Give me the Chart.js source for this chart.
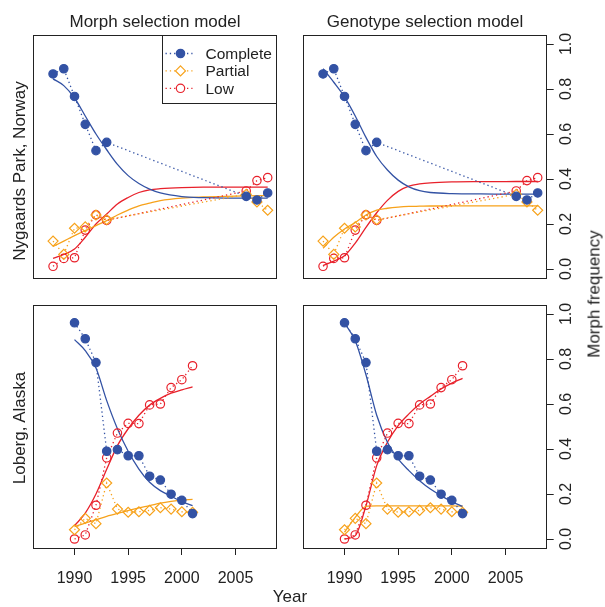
<!DOCTYPE html>
<html>
<head>
<meta charset="utf-8">
<script src="https://cdn.jsdelivr.net/npm/chart.js@4.4.1/dist/chart.umd.min.js"></script>
<style>
body { margin: 0; background: #fff; }
#wrap { position: relative; width: 605px; height: 607px; font-family: "Liberation Sans", Arial, sans-serif; color: #222; }
#wrap canvas { position: absolute; left: 0; top: 0; }
.lbl { position: absolute; white-space: nowrap; font-size: 17px; line-height: 17px; transform: translate(-50%, -50%); }
.rot { transform: translate(-50%, -50%) rotate(-90deg); }
</style>
</head>
<body>
<div id="wrap">
    <canvas id="tl" width="605" height="607"></canvas>
    <canvas id="tr" width="605" height="607"></canvas>
    <canvas id="bl" width="605" height="607"></canvas>
    <canvas id="br" width="605" height="607"></canvas>
    <div class="lbl" style="left:155px; top:21px;">Morph selection model</div>
    <div class="lbl" style="left:425px; top:21px;">Genotype selection model</div>
    <div class="lbl rot" style="left:19px; top:171px;">Nygaards Park, Norway</div>
    <div class="lbl rot" style="left:19px; top:428px;">Loberg, Alaska</div>
    <div class="lbl" style="left:290px; top:596px;">Year</div>
    <div class="lbl rot" style="left:594px; top:294px;">Morph frequency</div>
</div>
<script>
// axis ranges and ticks
var xRange = [1986.16, 2008.84];
var yRange = [-0.04, 1.04];
var xTicks = [1990, 1995, 2000, 2005];
var yTicks = [0, 0.2, 0.4, 0.6, 0.8, 1.0];
var legendLabels = ['Complete', 'Partial', 'Low'];

// Nygaards Park, observed
var obsYearsN = [1988, 1989, 1990, 1991, 1992, 1993, 2006, 2007, 2008];
var completeN = [0.867, 0.89, 0.767, 0.643, 0.526, 0.563, 0.323, 0.307, 0.338];
var partialN = [0.124, 0.065, 0.181, 0.187, 0.24, 0.219, 0.332, 0.298, 0.261];
var lowN = [0.012, 0.047, 0.05, 0.173, 0.241, 0.216, 0.347, 0.393, 0.406];

// Loberg, observed
var obsYearsL = [1990, 1991, 1992, 1993, 1994, 1995, 1996, 1997, 1998, 1999, 2000, 2001];
var completeL = [0.961, 0.89, 0.784, 0.39, 0.397, 0.37, 0.37, 0.279, 0.262, 0.199, 0.172, 0.113];
var partialL = [0.041, 0.092, 0.068, 0.249, 0.133, 0.119, 0.121, 0.127, 0.139, 0.133, 0.121, 0.119];
var lowL = [0.0, 0.018, 0.15, 0.361, 0.471, 0.514, 0.513, 0.596, 0.6, 0.673, 0.708, 0.77];

// fitted curves, Nygaards Park
var fitYearsN = [1988, 1989, 1990, 1991, 1992, 1993, 1994, 1995, 1996, 1997, 1998, 2000, 2002, 2004, 2006, 2008];
var fitCompleteMorphN = [0.845, 0.815, 0.76, 0.68, 0.6, 0.53, 0.465, 0.415, 0.38, 0.355, 0.338, 0.322, 0.317, 0.315, 0.315, 0.315];
var fitPartialMorphN = [0.1, 0.124, 0.148, 0.171, 0.193, 0.215, 0.24, 0.262, 0.281, 0.293, 0.304, 0.315, 0.32, 0.323, 0.325, 0.326];
var fitLowMorphN = [0.047, 0.065, 0.089, 0.141, 0.2, 0.244, 0.289, 0.318, 0.34, 0.352, 0.357, 0.362, 0.364, 0.364, 0.364, 0.364];
var fitCompleteGenoN = [0.89, 0.83, 0.765, 0.68, 0.585, 0.5, 0.44, 0.395, 0.365, 0.348, 0.34, 0.335, 0.334, 0.333, 0.333, 0.333];
var fitPartialGenoN = [0.092, 0.141, 0.178, 0.207, 0.24, 0.262, 0.27, 0.275, 0.278, 0.279, 0.28, 0.281, 0.281, 0.281, 0.281, 0.281];
var fitLowGenoN = [0.015, 0.035, 0.059, 0.115, 0.185, 0.25, 0.305, 0.345, 0.368, 0.378, 0.383, 0.387, 0.388, 0.388, 0.389, 0.389];

// fitted curves, Loberg
var fitYearsL = [1990, 1991, 1992, 1993, 1994, 1995, 1996, 1997, 1998, 1999, 2000, 2001];
var fitCompleteMorphL = [0.886, 0.837, 0.76, 0.615, 0.49, 0.39, 0.311, 0.252, 0.215, 0.19, 0.166, 0.148];
var fitPartialMorphL = [0.055, 0.071, 0.086, 0.101, 0.114, 0.126, 0.138, 0.148, 0.159, 0.167, 0.173, 0.176];
var fitLowMorphL = [0.059, 0.115, 0.2, 0.31, 0.415, 0.49, 0.55, 0.595, 0.625, 0.648, 0.663, 0.676];
var fitCompleteGenoL = [0.96, 0.881, 0.73, 0.55, 0.43, 0.356, 0.304, 0.259, 0.222, 0.193, 0.166, 0.145];
var fitPartialGenoL = [0.03, 0.096, 0.145, 0.147, 0.147, 0.147, 0.147, 0.147, 0.147, 0.147, 0.147, 0.146];
var fitLowGenoL = [0.0, 0.015, 0.148, 0.326, 0.43, 0.504, 0.556, 0.6, 0.634, 0.667, 0.693, 0.714];

var blue = '#3352A4', orange = '#F7A21B', red = '#E8212B', ink = '#222';
var font = '"Liberation Sans", Arial, sans-serif';

function pts(xs, ys) {
    return xs.map(function (x, i) { return {x: x, y: ys[i]}; });
}

function obsSet(xs, ys, color, style) {
    return {
        data: pts(xs, ys),
        borderColor: color,
        borderWidth: 1.3,
        borderDash: [1.3, 3],
        pointStyle: style === 'diamond' ? 'rectRot' : 'circle',
        pointRadius: style === 'diamond' ? 5 : 4.2,
        pointBorderWidth: 1.2,
        pointBorderColor: color,
        pointBackgroundColor: style === 'filled' ? color : 'rgba(0,0,0,0)',
        fill: false,
        tension: 0
    };
}

function fitSet(xs, ys, color) {
    return {
        data: pts(xs, ys),
        borderColor: color,
        borderWidth: 1.3,
        pointRadius: 0,
        fill: false,
        cubicInterpolationMode: 'monotone'
    };
}

// box edges, snapped so box and legend share the same lines
function boxEdges(a) {
    var l = Math.round(a.left) + 0.5, t = Math.round(a.top) + 0.5;
    return {l: l, t: t, r: l + Math.round(a.right - a.left), b: t + Math.round(a.bottom - a.top)};
}

var boxPlugin = {
    id: 'box',
    afterDraw: function (chart) {
        var e = boxEdges(chart.chartArea), ctx = chart.ctx;
        ctx.save();
        ctx.strokeStyle = ink;
        ctx.lineWidth = 1;
        ctx.strokeRect(e.l, e.t, e.r - e.l, e.b - e.t);
        ctx.restore();
    }
};

var legendPlugin = {
    id: 'morphLegend',
    afterDraw: function (chart) {
        var e = boxEdges(chart.chartArea), ctx = chart.ctx;
        var left = e.r - 114, top = e.t;
        var colors = [blue, orange, red];
        ctx.save();
        ctx.strokeStyle = ink;
        ctx.lineWidth = 1;
        ctx.strokeRect(left, top, e.r - left, 68);
        for (var i = 0; i < 3; i++) {
            var y = top + 18 + i * 17.4;
            var sx = left + 18;
            ctx.strokeStyle = colors[i];
            ctx.lineWidth = 1.3;
            ctx.setLineDash([1.3, 3]);
            ctx.beginPath();
            ctx.moveTo(left + 3, y);
            ctx.lineTo(left + 30, y);
            ctx.stroke();
            ctx.setLineDash([]);
            ctx.lineWidth = 1.2;
            ctx.beginPath();
            if (i === 1) {
                ctx.moveTo(sx, y - 5); ctx.lineTo(sx + 5, y); ctx.lineTo(sx, y + 5); ctx.lineTo(sx - 5, y); ctx.closePath();
            } else {
                ctx.arc(sx, y, 4.2, 0, Math.PI * 2);
            }
            ctx.fillStyle = i === 0 ? colors[i] : '#fff';
            ctx.fill();
            ctx.stroke();
            ctx.fillStyle = ink;
            ctx.font = '15.5px ' + font;
            ctx.textAlign = 'left';
            ctx.textBaseline = 'middle';
            ctx.fillText(legendLabels[i], left + 43, y + 1);
        }
        ctx.restore();
    }
};

function makePanel(id, pad, showX, showY, obs, fits, years, fitYears, withLegend) {
    var datasets = [
        obsSet(years, obs[0], blue, 'filled'),
        obsSet(years, obs[1], orange, 'diamond'),
        obsSet(years, obs[2], red, 'open'),
        fitSet(fitYears, fits[0], blue),
        fitSet(fitYears, fits[1], orange),
        fitSet(fitYears, fits[2], red)
    ];
    var plugins = [boxPlugin];
    if (withLegend) plugins.push(legendPlugin);
    return new Chart(document.getElementById(id), {
        type: 'line',
        data: {datasets: datasets},
        options: {
            responsive: false,
            animation: false,
            layout: {padding: pad},
            plugins: {legend: {display: false}, tooltip: {enabled: false}},
            scales: {
                x: {
                    type: 'linear',
                    min: xRange[0],
                    max: xRange[1],
                    display: showX,
                    afterBuildTicks: function (s) { s.ticks = xTicks.map(function (v) { return {value: v}; }); },
                    afterFit: function (s) { if (showX) s.height = 40; },
                    border: {display: false},
                    grid: {drawOnChartArea: false, drawTicks: true, tickLength: 7, tickColor: ink, tickWidth: 1},
                    ticks: {color: ink, padding: 14, maxRotation: 0, font: {family: font, size: 16},
                        callback: function (v) { return String(v); }}
                },
                y: {
                    type: 'linear',
                    position: 'right',
                    min: yRange[0],
                    max: yRange[1],
                    display: showY,
                    afterBuildTicks: function (s) { s.ticks = yTicks.map(function (v) { return {value: v}; }); },
                    afterFit: function (s) { if (showY) s.width = 40; },
                    border: {display: false},
                    grid: {drawOnChartArea: false, drawTicks: true, tickLength: 7, tickColor: ink, tickWidth: 1},
                    ticks: {color: ink, padding: 2, minRotation: 90, maxRotation: 90, crossAlign: 'center',
                        font: {family: font, size: 16},
                        callback: function (v) { return v.toFixed(1); }}
                }
            }
        },
        plugins: plugins
    });
}

makePanel('tl', {left: 33.3, top: 35, right: 328.3, bottom: 329}, false, false,
    [completeN, partialN, lowN], [fitCompleteMorphN, fitPartialMorphN, fitLowMorphN], obsYearsN, fitYearsN, true);
makePanel('tr', {left: 303.3, top: 35, right: 18.3, bottom: 329}, false, true,
    [completeN, partialN, lowN], [fitCompleteGenoN, fitPartialGenoN, fitLowGenoN], obsYearsN, fitYearsN, false);
makePanel('bl', {left: 33.3, top: 305, right: 328.3, bottom: 19}, true, false,
    [completeL, partialL, lowL], [fitCompleteMorphL, fitPartialMorphL, fitLowMorphL], obsYearsL, fitYearsL, false);
makePanel('br', {left: 303.3, top: 305, right: 18.3, bottom: 19}, true, true,
    [completeL, partialL, lowL], [fitCompleteGenoL, fitPartialGenoL, fitLowGenoL], obsYearsL, fitYearsL, false);
</script>
</body>
</html>
